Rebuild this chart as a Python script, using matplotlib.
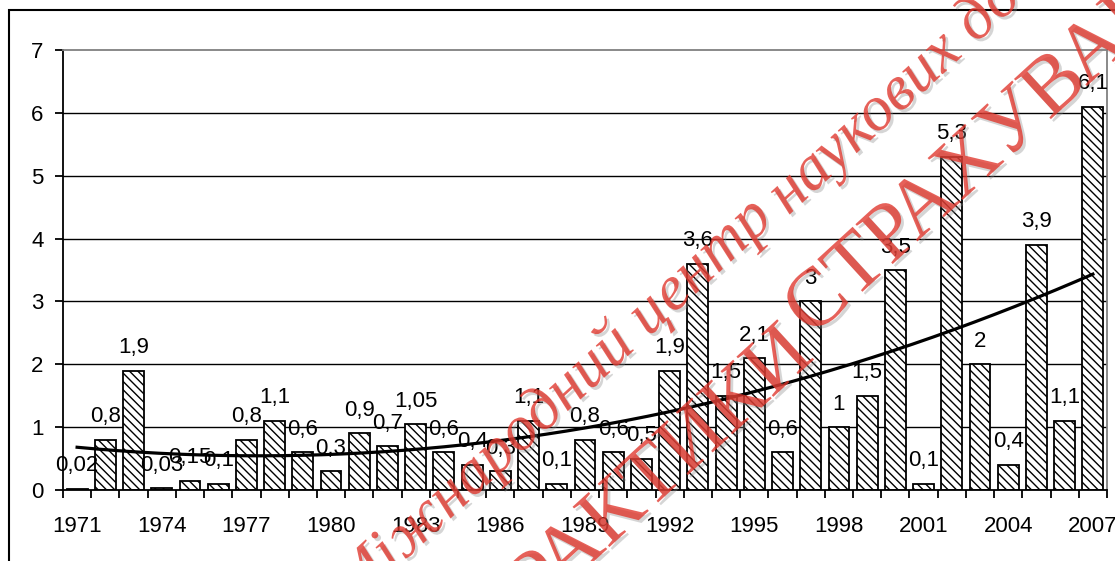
import numpy as np
import matplotlib
matplotlib.use("Agg")
import matplotlib.pyplot as plt
from matplotlib import patheffects
from matplotlib.patches import Rectangle

years = list(range(1971, 2008))
values = [0.02, 0.8, 1.9, 0.03, 0.15, 0.1, 0.8, 1.1, 0.6, 0.3,
          0.9, 0.7, 1.05, 0.6, 0.4, 0.3, 1.1, 0.1, 0.8, 0.6,
          0.5, 1.9, 3.6, 1.5, 2.1, 0.6, 3.0, 1.0, 1.5, 3.5,
          0.1, 5.3, 2.0, 0.4, 3.9, 1.1, 6.1]
year_labels = [str(y) for y in years[::3]]
y_ticks = [0, 1, 2, 3, 4, 5, 6, 7]

plt.rcParams['font.family'] = ['Liberation Sans', 'DejaVu Sans']
plt.rcParams['hatch.linewidth'] = 1.0
plt.rcParams['hatch.color'] = 'black'

W, H = 1115, 561
fig = plt.figure(figsize=(W / 100, H / 100), dpi=100)

# chart-area frame
fig.patches.append(Rectangle((9 / W, -0.05), 1.2, 1 - 10 / H + 0.05,
                             transform=fig.transFigure, fill=False,
                             edgecolor='black', linewidth=1.5, zorder=0))

ax = fig.add_axes([63 / W, 1 - 490 / H, (1107 - 63) / W, (490 - 50) / H])
x = np.arange(len(years))

for g in y_ticks[1:-1]:
    ax.axhline(g, color='black', linewidth=1.0, zorder=0)

ax.bar(x, values, width=0.74, color='white', edgecolor='black',
       linewidth=1.3, hatch='\\\\\\\\', zorder=2)

for xi, v in zip(x, values):
    txt = ('%g' % v).replace('.', ',')
    ax.annotate(txt, (xi, v), xytext=(0, 12.5), textcoords='offset points',
                ha='center', va='baseline', fontsize=16, zorder=4)

# polynomial trend (2nd order)
xn = x + 1
coef = np.polyfit(xn, values, 2)
xs = np.linspace(xn[0], xn[-1], 300)
ax.plot(xs - 1, np.polyval(coef, xs), color='black', linewidth=2.3, zorder=5)

ax.set_xlim(-0.5, len(years) - 0.5)
ax.set_ylim(0, 7)
ax.set_yticks(y_ticks)
ax.set_yticklabels([str(t) for t in y_ticks])
ax.set_xticks(np.arange(-0.5, len(years), 1.0))
ax.set_xticklabels([])
ax.set_xticks(x[::3], minor=True)
ax.set_xticklabels(year_labels, minor=True)
ax.tick_params(axis='x', which='major', length=6, width=1.3, direction='out')
ax.tick_params(axis='x', which='minor', length=0, pad=18.5, labelsize=16)
ax.tick_params(axis='y', length=6, width=1.3, pad=8, labelsize=16)

for s in ('left', 'bottom'):
    ax.spines[s].set_color('black')
    ax.spines[s].set_linewidth(1.3)
for s in ('top', 'right'):
    ax.spines[s].set_color('#808080')
    ax.spines[s].set_linewidth(1.3)

# diagonal stamp
red = '#e0352b'
shadow = [patheffects.SimplePatchShadow(offset=(2, -2), shadow_rgbFace='#888888', alpha=0.35),
          patheffects.Normal()]
ang = 42.5
ux, uy = np.cos(np.radians(ang)), np.sin(np.radians(ang))


def stamp(px, py, text, ha, **kw):
    fig.text(px / W, 1 - py / H, text, rotation=ang, rotation_mode='anchor',
             ha=ha, va='baseline', color=red, alpha=0.78,
             path_effects=shadow, zorder=10, **kw)


script = dict(fontsize=46, family='Liberation Serif', style='italic')
ax_i, ay_i = 788, 216
stamp(ax_i, ay_i, 'наукових досліджень', 'left', **script)
stamp(ax_i - 13 * ux - 3, ay_i + 13 * uy - 4, 'Міжнародний центр', 'right', **script)

caps = dict(fontsize=60, family='Liberation Serif')
ax_c, ay_c = 812, 338
stamp(ax_c, ay_c, 'СТРАХУВАННЯ', 'left', **caps)
stamp(ax_c - 20 * ux + 19, ay_c + 20 * uy + 6, 'ПРАКТИКИ', 'right', **caps)

fig.savefig('out.png', dpi=100)
